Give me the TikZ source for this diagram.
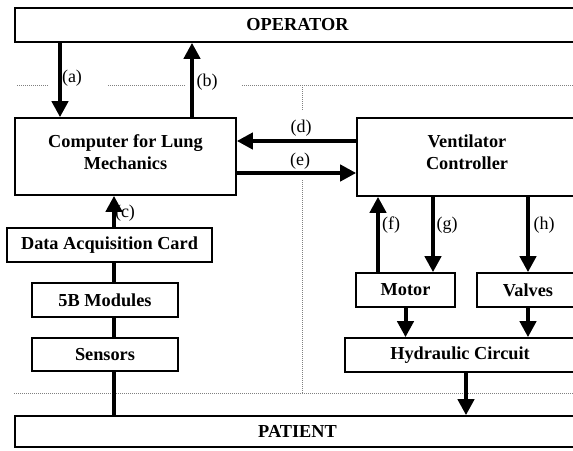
\documentclass[tikz,border=0pt]{standalone}
\usepackage{fontspec}
\setmainfont{Liberation Serif}
\usetikzlibrary{arrows.meta}
\begin{document}
\begin{tikzpicture}[x=1pt,y=-1pt,
  box/.style={draw,line width=1.6pt,inner sep=0pt,font=\bfseries\fontsize{18.3}{22}\selectfont,align=center},
  txt/.style={inner sep=0pt,font=\bfseries\fontsize{18.3}{22}\selectfont,align=center},
  lab/.style={inner sep=0pt,font=\fontsize{18}{20}\selectfont},
  arr/.style={line width=4pt,-{Triangle[width=16pt,length=16pt]}},
  ln/.style={line width=4pt},
  dot/.style={gray,line width=0.7pt,dash pattern=on 1pt off 1pt}]
\useasboundingbox (0,0) rectangle (573,450);
\clip (0,0) rectangle (573,450);
\fill[white] (0,0) rectangle (573,450);
% dotted separators
\draw[dot] (17,85) -- (48,85);
\draw[dot] (108,85) -- (185,85);
\draw[dot] (242,85) -- (575,85);
\draw[dot] (302,85) -- (302,110);
\draw[dot] (302,180) -- (302,393);
\draw[dot] (14,393) -- (575,393);
% boxes
\node[box,minimum width=565pt,minimum height=34pt] (op) at (297.5,25) {OPERATOR};
\node[box,minimum width=221pt,minimum height=77pt] (comp) at (125.5,156.5) {};
\node[txt] (comptxt) at (125.5,152.5) {Computer for Lung\\Mechanics};
\node[box,minimum width=221pt,minimum height=78pt] (vent) at (467.5,157) {};
\node[txt] (venttxt) at (467,152) {Ventilator\\Controller};
\node[box,minimum width=205pt,minimum height=34pt] (dac) at (109.5,245) {Data Acquisition Card};
\node[box,minimum width=146pt,minimum height=34pt] (mod) at (105,300) {5B Modules};
\node[box,minimum width=146pt,minimum height=33pt] (sens) at (105,354.5) {Sensors};
\node[box,minimum width=565pt,minimum height=31pt] (pat) at (297.5,431.5) {PATIENT};
\node[box,minimum width=99pt,minimum height=34pt] (motor) at (405.5,290) {Motor};
\node[box,minimum width=102pt,minimum height=34pt] (valves) at (528,290) {Valves};
\node[box,minimum width=230pt,minimum height=34pt] (hyd) at (460,355) {Hydraulic Circuit};
% coordinates for connector positions
\coordinate (xa) at (60,0);
\coordinate (xb) at (192,0);
\coordinate (xc) at (114,0);
\coordinate (yd) at (0,141);
\coordinate (ye) at (0,173);
\coordinate (xf) at (378,0);
\coordinate (xg) at (433,0);
\coordinate (xi) at (466,0);
% connectors
\draw[arr] (op.south -| xa) -- (comp.north -| xa);
\draw[arr] (comp.north -| xb) -- (op.south -| xb);
\draw[arr] (dac.north -| xc) -- (comp.south -| xc);
\draw[ln] (mod.north -| xc) -- (dac.south -| xc);
\draw[ln] (sens.north -| xc) -- (mod.south -| xc);
\draw[ln] (pat.north -| xc) -- (sens.south -| xc);
\draw[arr] (vent.west |- yd) -- (comp.east |- yd);
\draw[arr] (comp.east |- ye) -- (vent.west |- ye);
\draw[arr] (motor.north -| xf) -- (vent.south -| xf);
\draw[arr] (vent.south -| xg) -- (motor.north -| xg);
\draw[arr] (vent.south -| valves) -- (valves.north);
\draw[arr] (motor.south) -- (hyd.north -| motor);
\draw[arr] (valves.south) -- (hyd.north -| valves);
\draw[arr] (hyd.south -| xi) -- (pat.north -| xi);
% labels
\node[lab] (la) at (72,78) {(a)};
\node[lab] (lb) at (207,82) {(b)};
\node[lab] (lc) at (125,213) {(c)};
\node[lab] (ld) at (301,128) {(d)};
\node[lab] (le) at (300,161) {(e)};
\node[lab] (lf) at (391,225) {(f)};
\node[lab] (lg) at (447,225) {(g)};
\node[lab] (lh) at (544,225) {(h)};
\end{tikzpicture}
\end{document}
